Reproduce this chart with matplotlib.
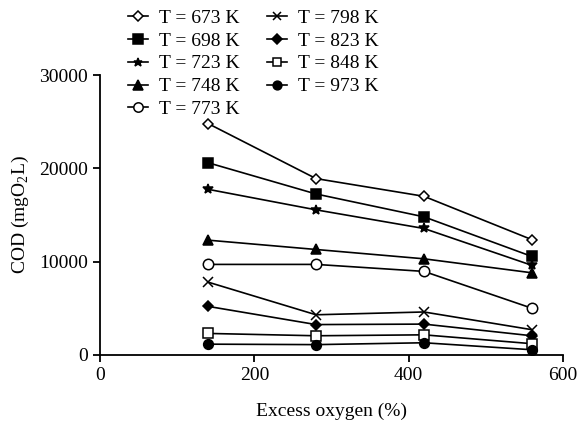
import matplotlib
matplotlib.use('Agg')
import matplotlib.pyplot as plt

plt.rcParams['font.family'] = 'Liberation Serif'
plt.rcParams['mathtext.fontset'] = 'custom'
plt.rcParams['mathtext.rm'] = 'Liberation Serif'

excess_o2 = [140, 280, 420, 560]

temps = ['673', '698', '723', '748', '773', '798', '823', '848', '973']

cod_673 = [24800, 18900, 17000, 12350]
cod_698 = [20600, 17250, 14800, 10550]
cod_723 = [17750, 15550, 13550, 9600]
cod_748 = [12300, 11300, 10300, 8800]
cod_773 = [9700, 9700, 8950, 5000]
cod_798 = [7800, 4300, 4600, 2700]
cod_823 = [5200, 3250, 3300, 2050]
cod_848 = [2300, 2050, 2150, 1200]
cod_973 = [1150, 1100, 1300, 550]

series = [cod_673, cod_698, cod_723, cod_748, cod_773,
          cod_798, cod_823, cod_848, cod_973]

# marker, size, face colour
styles = [('D', 5.5, 'white'), ('s', 7.5, 'black'), ('*', 7, 'black'),
          ('^', 7.5, 'black'), ('o', 7.5, 'white'), ('x', 7, 'black'),
          ('D', 5.5, 'black'), ('s', 7, 'white'), ('o', 7, 'black')]

fig = plt.figure(figsize=[5.82, 4.24], dpi=100)
ax = fig.add_axes([0.172, 0.163, 0.795, 0.66])

for t, vals, (m, ms, fc) in zip(temps, series, styles):
    ax.plot(excess_o2, vals, '-', color='black', lw=1.2, marker=m, ms=ms,
            mfc=fc, mec='black', mew=1.1, label='T = %s K' % t)

ax.set_xlim(0, 600)
ax.set_ylim(0, 30000)
ax.set_xticks([0, 200, 400, 600])
ax.set_yticks([0, 10000, 20000, 30000])
ax.spines['top'].set_visible(False)
ax.spines['right'].set_visible(False)
for s in ('left', 'bottom'):
    ax.spines[s].set_linewidth(1.3)
ax.tick_params(direction='out', length=5, width=1.3, labelsize=14)

ax.set_xlabel('Excess oxygen (%)', fontsize=14, labelpad=14)
ax.set_ylabel('COD (mgO$_2$L)', fontsize=14, labelpad=6)

fig.legend(loc='upper left', bbox_to_anchor=(0.217, 0.983), ncol=2,
           frameon=False, fontsize=14, handlelength=1.0, handletextpad=0.6,
           columnspacing=1.4, labelspacing=0.27, borderpad=0.1,
           borderaxespad=0, markerscale=0.9)

fig.savefig('out.png', dpi=100)
